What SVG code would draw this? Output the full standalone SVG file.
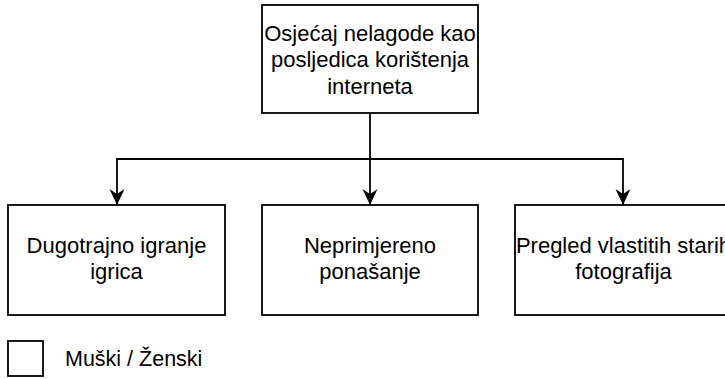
<svg xmlns="http://www.w3.org/2000/svg" width="725" height="379" viewBox="0 0 725 379">
<style>
.box{fill:#fff;stroke:#000;stroke-width:1.8}
.t{font-family:"Liberation Sans",Arial,sans-serif;font-size:22px;fill:#000;text-anchor:middle}
.lg{font-family:"Liberation Sans",Arial,sans-serif;font-size:21.5px;fill:#000}
.c{fill:none;stroke:#000;stroke-width:1.8}
</style>
<defs>
<marker id="ah" markerWidth="16" markerHeight="16" refX="16" refY="7.5" orient="auto" markerUnits="userSpaceOnUse">
<path d="M0,0 L16,7.5 L0,15 L5,7.5 Z" fill="#000"/>
</marker>
</defs>
<g id="connectors">
<path class="c" d="M370,113 V205" marker-end="url(#ah)"/>
<path class="c" d="M370,159 H117 V205" marker-end="url(#ah)"/>
<path class="c" d="M370,159 H623 V205" marker-end="url(#ah)"/>
</g>
<g id="root">
<rect class="box" x="262" y="5" width="216" height="108"/>
<text class="t" x="370" y="41">Osjećaj nelagode kao</text>
<text class="t" x="370" y="67">posljedica korištenja</text>
<text class="t" x="370" y="94">interneta</text>
</g>
<g id="n1">
<rect class="box" x="8" y="205" width="217" height="110"/>
<text class="t" x="116.5" y="253">Dugotrajno igranje</text>
<text class="t" x="116.5" y="279">igrica</text>
</g>
<g id="n2">
<rect class="box" x="262" y="205" width="216" height="110"/>
<text class="t" x="370" y="253">Neprimjereno</text>
<text class="t" x="370" y="279">ponašanje</text>
</g>
<g id="n3">
<rect class="box" x="515" y="205" width="217" height="110"/>
<text class="t" x="623.5" y="253">Pregled vlastitih starih</text>
<text class="t" x="623.5" y="279">fotografija</text>
</g>
<g id="legend">
<rect class="box" x="8" y="341" width="35" height="35"/>
<text class="lg" x="65" y="366">Muški / Ženski</text>
</g>
</svg>
